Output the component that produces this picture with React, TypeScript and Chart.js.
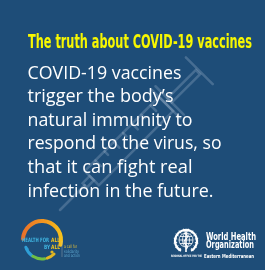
import React, { useEffect, useRef } from "react";
import { Chart, registerables } from "chart.js";

Chart.register(...registerables);

const TITLE = "The truth about COVID-19 vaccines";
const BODY_LINES = [
  "COVID-19 vaccines",
  "trigger the body\u2019s",
  "natural immunity to",
  "respond to the virus, so",
  "that it can fight real",
  "infection in the future.",
];
const HFA_WORDS = ["HEALTH FOR", "ALL", "BY", "ALL"];
const HFA_TAGLINE = ["a call for", "solidarity", "and action"];
const WHO_NAME = ["World Health", "Organization"];
const WHO_REGION = ["REGIONAL OFFICE FOR THE", "Eastern Mediterranean"];

// layout (pixel positions / sizes)
const BG = "#1e4d78";
const BODY_WIDTHS = [154, 146, 165, 194, 165, 186];
const BODY_X = 27.5;
const BODY_Y0 = 78.5;
const BODY_DY = 23.6;

function fitText(ctx: CanvasRenderingContext2D, text: string, x: number, y: number, w: number, font: string, color: string) {
  ctx.font = font;
  const m = ctx.measureText(text).width;
  ctx.save();
  ctx.translate(x, y);
  ctx.scale(w / m, 1);
  ctx.fillStyle = color;
  ctx.textBaseline = "alphabetic";
  ctx.textAlign = "left";
  ctx.fillText(text, 0, 0);
  ctx.restore();
}

function drawSyringe(ctx: CanvasRenderingContext2D) {
  ctx.save();
  ctx.translate(60, 210);
  ctx.rotate(-Math.PI / 4);
  ctx.strokeStyle = "rgba(200,215,232,0.24)";
  ctx.lineWidth = 2.5;
  ctx.lineCap = "round";
  ctx.beginPath();
  ctx.moveTo(0, 0);
  ctx.lineTo(35, 0);
  ctx.stroke();
  ctx.strokeRect(35, -3, 10, 6);
  ctx.strokeRect(45, -10, 105, 20);
  for (let i = 0; i < 7; i++) {
    const gx = 60 + i * 13;
    ctx.beginPath();
    ctx.moveTo(gx, -10);
    ctx.lineTo(gx, i % 2 === 0 ? -2 : -5);
    ctx.stroke();
  }
  ctx.beginPath();
  ctx.moveTo(150, -20);
  ctx.lineTo(150, 20);
  ctx.moveTo(155, -20);
  ctx.lineTo(155, 20);
  ctx.stroke();
  ctx.strokeRect(155, -3, 40, 6);
  ctx.beginPath();
  ctx.moveTo(197, -19);
  ctx.lineTo(197, 19);
  ctx.stroke();
  ctx.restore();
}

function drawHFA(ctx: CanvasRenderingContext2D) {
  const cx = 42, cy = 240, r = 19;
  const g = ctx.createLinearGradient(22, 0, 62, 0);
  g.addColorStop(0, "#e8702a");
  g.addColorStop(0.6, "#f39a1e");
  g.addColorStop(1, "#f6c21c");
  ctx.save();
  ctx.lineCap = "round";
  ctx.strokeStyle = g;
  ctx.lineWidth = 4;
  ctx.beginPath();
  ctx.arc(cx, cy, r, Math.PI * 1.02, Math.PI * 0.08 + Math.PI * 2, false);
  ctx.stroke();
  ctx.lineWidth = 3;
  ctx.strokeStyle = "#2f9fd6";
  ctx.beginPath();
  ctx.arc(cx, cy + 2, r - 2, Math.PI * 0.9, Math.PI * 0.7, true);
  ctx.stroke();
  ctx.strokeStyle = "#6fbf44";
  ctx.beginPath();
  ctx.arc(cx, cy + 2, r - 2, Math.PI * 0.68, Math.PI * 0.45, true);
  ctx.stroke();
  ctx.strokeStyle = "#e2b622";
  ctx.beginPath();
  ctx.arc(cx, cy + 2, r - 2, Math.PI * 0.4, Math.PI * 0.25, true);
  ctx.stroke();
  ctx.fillStyle = "#2f9fd6";
  ctx.beginPath();
  ctx.arc(27, 249, 1.6, 0, Math.PI * 2);
  ctx.fill();
  ctx.fillStyle = "#e2b622";
  ctx.beginPath();
  ctx.arc(52, 252, 1.6, 0, Math.PI * 2);
  ctx.fill();
  ctx.restore();

  fitText(ctx, HFA_WORDS[0], 22, 242, 27, "bold 6px 'DejaVu Sans Condensed'", "#3fb3df");
  fitText(ctx, HFA_WORDS[1], 51, 242, 9, "bold 6px 'DejaVu Sans Condensed'", "#f3c41c");
  fitText(ctx, HFA_WORDS[2], 44, 248.5, 6, "bold 6px 'DejaVu Sans Condensed'", "#3fb3df");
  fitText(ctx, HFA_WORDS[3], 51, 248.5, 9, "bold 6px 'DejaVu Sans Condensed'", "#f3c41c");

  ctx.save();
  ctx.strokeStyle = "rgba(200,200,200,0.6)";
  ctx.lineWidth = 0.6;
  ctx.beginPath();
  ctx.moveTo(62, 241);
  ctx.lineTo(62, 257);
  ctx.stroke();
  ctx.restore();
  const tagColors = ["#e9c23a", "#5fa9d0", "#5fa9d0"];
  HFA_TAGLINE.forEach((t, i) => {
    fitText(ctx, t, 64, 248 + i * 4.6, [13, 15, 16][i], "4.5px 'DejaVu Sans'", tagColors[i]);
  });
}

function drawWHO(ctx: CanvasRenderingContext2D) {
  const cx = 186, cy = 241;
  ctx.save();
  ctx.strokeStyle = "#ffffff";
  ctx.fillStyle = "#ffffff";
  ctx.lineWidth = 2.2;
  ctx.beginPath();
  ctx.arc(cx, cy, 11, Math.PI * 0.65, Math.PI * 2.35);
  ctx.stroke();
  ctx.lineWidth = 1;
  for (let i = 0; i < 14; i++) {
    const a = Math.PI * 0.7 + (i / 13) * Math.PI * 1.6;
    ctx.beginPath();
    ctx.moveTo(cx + Math.cos(a) * 9, cy + Math.sin(a) * 9);
    ctx.lineTo(cx + Math.cos(a) * 12.5, cy + Math.sin(a) * 12.5);
    ctx.stroke();
  }
  ctx.lineWidth = 0.8;
  ctx.beginPath();
  ctx.arc(cx, cy - 1, 7, 0, Math.PI * 2);
  ctx.stroke();
  ctx.beginPath();
  ctx.ellipse(cx, cy - 1, 3.5, 7, 0, 0, Math.PI * 2);
  ctx.moveTo(cx - 7, cy - 1);
  ctx.lineTo(cx + 7, cy - 1);
  ctx.moveTo(cx - 6, cy - 4.5);
  ctx.lineTo(cx + 6, cy - 4.5);
  ctx.moveTo(cx - 6, cy + 2.5);
  ctx.lineTo(cx + 6, cy + 2.5);
  ctx.stroke();
  ctx.lineWidth = 1.6;
  ctx.beginPath();
  ctx.moveTo(cx, cy - 11);
  ctx.lineTo(cx, cy + 11);
  ctx.stroke();
  ctx.lineWidth = 1.1;
  ctx.beginPath();
  ctx.moveTo(cx - 2, cy - 8);
  ctx.quadraticCurveTo(cx + 4, cy - 5, cx, cy - 2);
  ctx.quadraticCurveTo(cx - 4, cy + 1, cx, cy + 4);
  ctx.quadraticCurveTo(cx + 3, cy + 6, cx, cy + 8);
  ctx.stroke();
  ctx.restore();

  fitText(ctx, WHO_NAME[0], 206, 239.5, 50, "bold 10px 'DejaVu Sans Condensed'", "#ffffff");
  fitText(ctx, WHO_NAME[1], 206, 248, 48, "bold 10px 'DejaVu Sans Condensed'", "#ffffff");
  fitText(ctx, WHO_REGION[0], 171, 257, 31, "bold 3px 'DejaVu Sans'", "#ffffff");
  fitText(ctx, WHO_REGION[1], 204, 257.5, 50, "bold 5.5px 'DejaVu Sans Condensed'", "#ffffff");
}

const posterPlugin = {
  id: "poster",
  beforeDraw(chart: any) {
    const ctx: CanvasRenderingContext2D = chart.ctx;
    const w = chart.width, h = chart.height;
    ctx.save();
    ctx.fillStyle = BG;
    ctx.fillRect(0, 0, w, h);
    drawSyringe(ctx);
    fitText(ctx, TITLE, 28, 47.5, 224, "bold 19px 'DejaVu Sans Condensed'", "#f7f700");
    BODY_LINES.forEach((line, i) => {
      fitText(ctx, line, BODY_X, BODY_Y0 + i * BODY_DY, BODY_WIDTHS[i], "17.5px 'Open Sans'", "#ffffff");
    });
    drawHFA(ctx);
    drawWHO(ctx);
    ctx.restore();
  },
};

export default function App() {
  const ref = useRef<HTMLCanvasElement | null>(null);
  useEffect(() => {
    if (!ref.current) return;
    const chart = new Chart(ref.current, {
      type: "scatter",
      data: { datasets: [] },
      options: {
        animation: false,
        responsive: false,
        maintainAspectRatio: false,
        devicePixelRatio: 1,
        layout: { padding: 0 },
        scales: { x: { display: false }, y: { display: false } },
        plugins: { legend: { display: false }, tooltip: { enabled: false } },
      },
      plugins: [posterPlugin],
    });
    return () => chart.destroy();
  }, []);
  return (
    <div style={{ position: "fixed", left: 0, top: 0, width: 265, height: 270 }}>
      <canvas ref={ref} width={265} height={270} style={{ display: "block", width: 265, height: 270 }} />
    </div>
  );
}
